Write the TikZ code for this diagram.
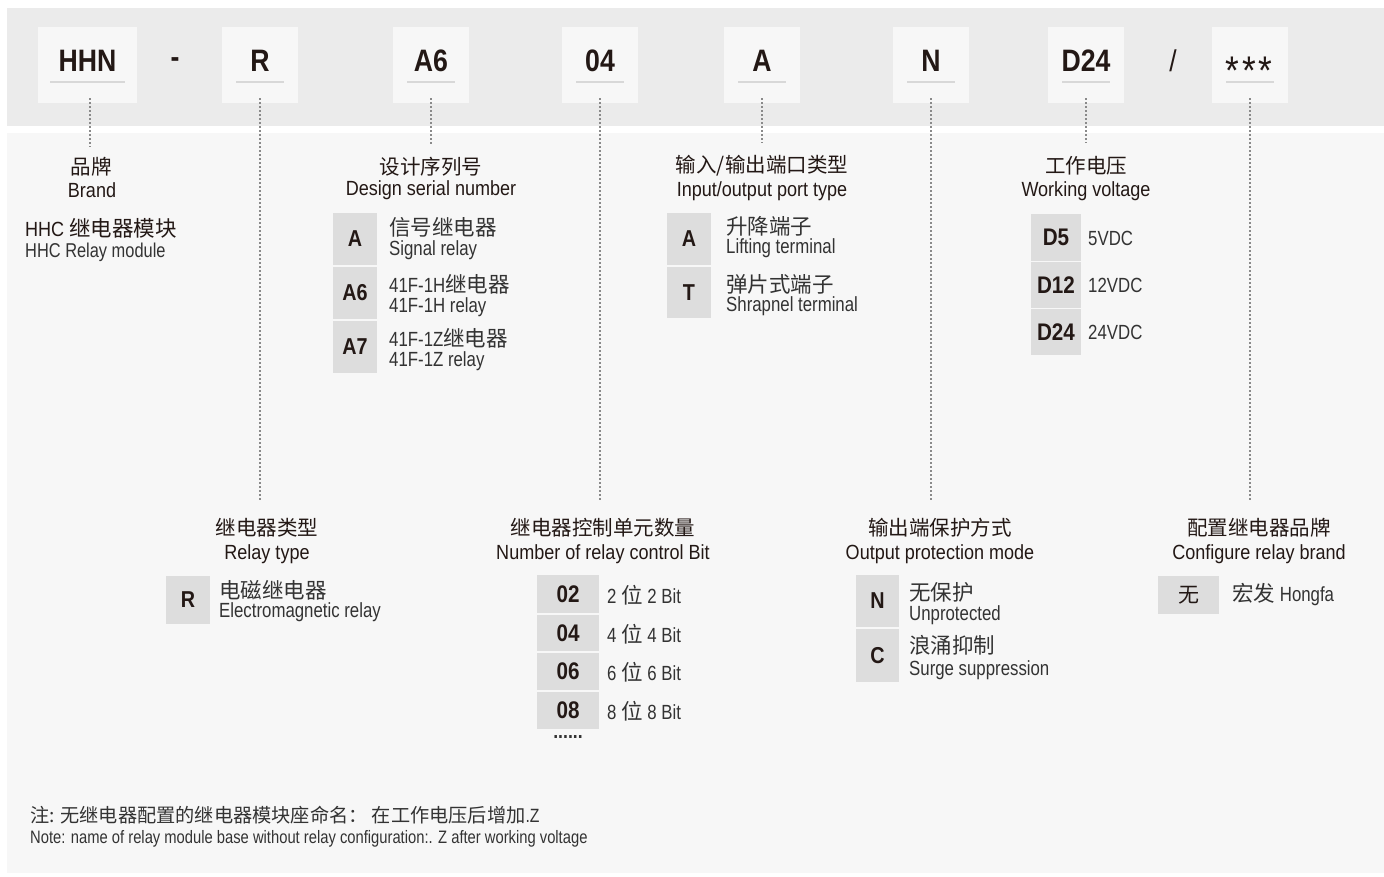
\documentclass[tikz,border=0pt]{standalone}
\usepackage{fontspec}
\setmainfont{Liberation Sans}[FakeStretch=0.88]
\newfontfamily\narrowfont{Liberation Sans}[FakeStretch=0.82]
\newfontfamily\codefont{Liberation Sans}[FakeStretch=0.86]
\newfontfamily\cjk{Noto Sans CJK SC}
\newcommand\zhs[1]{{\cjk\fontsize{21.5}{25}\selectfont #1}}
\definecolor{band}{HTML}{EBEBEB}
\definecolor{panel}{HTML}{F7F7F7}
\definecolor{cell}{HTML}{DDDDDD}
\definecolor{uline}{HTML}{D8D8D8}
\definecolor{ink}{HTML}{231815}
\definecolor{ink2}{HTML}{333333}
\definecolor{dotc}{HTML}{8A8A8A}
\tikzset{
  topbox/.style={fill=panel, minimum width=76, minimum height=76, inner sep=0},
  topcode/.style={font=\codefont\bfseries\fontsize{31}{36}\selectfont, text=ink, inner sep=0},
  ul/.style={draw=uline, line width=2pt},
  cbox/.style={fill=cell, inner sep=0, font=\codefont\bfseries\fontsize{23}{27}\selectfont, text=ink},
  hzh/.style={font=\cjk\fontsize{20.5}{24}\selectfont, text=ink, inner sep=0},
  hen/.style={font=\fontsize{20.5}{24}\selectfont, text=ink, inner sep=0, anchor=base},
  dl/.style={font=\narrowfont\fontsize{20.5}{24}\selectfont, text=ink2, inner sep=0, anchor=base west},
  dotline/.style={draw=dotc, line width=1.3pt, dash pattern=on 1.3pt off 2.7pt},
}
\begin{document}
\begin{tikzpicture}[x=1pt,y=-1pt]
\useasboundingbox (0,0) rectangle (1384,876);
\fill[white] (0,0) rectangle (1384,876);
\fill[band] (7,8) rectangle (1384,126);
\fill[panel] (7,133) rectangle (1384,873);

% ---- top code boxes
\node[topbox, minimum width=99] (hhn) at (87.5,65) {};
\node[topbox] (r) at (260,65) {};
\node[topbox] (a6) at (431,65) {};
\node[topbox] (n04) at (600,65) {};
\node[topbox] (a) at (762,65) {};
\node[topbox] (n) at (931,65) {};
\node[topbox] (d24) at (1086,65) {};
\node[topbox] (star) at (1250,65) {};

\node[topcode] (thhn) at (87.5,60.5) {HHN};
\node[topcode] (tdash) at (175,63) {-};
\node[topcode] (tr) at (260,60.5) {R};
\node[topcode] (ta6) at (431,60.5) {A6};
\node[topcode] (t04) at (600,60.5) {04};
\node[topcode] (ta) at (762,60.5) {A};
\node[topcode] (tn) at (931,60.5) {N};
\node[topcode] (td24) at (1086,60.5) {D24};
\node[font=\fontsize{30}{34}\selectfont, text=ink, inner sep=0] (tslash) at (1173,61) {/};
\node[font=\fontsize{40}{44}\selectfont, text=ink, inner sep=0, anchor=base] (tstar) at (1249,84) {*\hspace{3pt}*\hspace{3pt}*};

\draw[ul] (50,82) -- (125,82);
\draw[ul] (236,82) -- (284,82);
\draw[ul] (407,82) -- (455,82);
\draw[ul] (576,82) -- (624,82);
\draw[ul] (738,82) -- (786,82);
\draw[ul] (907,82) -- (955,82);
\draw[ul] (1062,82) -- (1110,82);
\draw[ul] (1226,82) -- (1274,82);

% ---- line end points
\coordinate (ehhn) at (90,147);
\coordinate (er) at (260,500);
\coordinate (ea6) at (431,145);
\coordinate (e04) at (600,500);
\coordinate (ea) at (762,143);
\coordinate (en) at (931,500);
\coordinate (ed24) at (1086,143);
\coordinate (estar) at (1250,500);

\draw[dotline] ([xshift=2.5pt,yshift=5pt]hhn.south) -- (ehhn);
\draw[dotline] ([yshift=5pt]r.south) -- (er);
\draw[dotline] ([yshift=5pt]a6.south) -- (ea6);
\draw[dotline] ([yshift=5pt]n04.south) -- (e04);
\draw[dotline] ([yshift=5pt]a.south) -- (ea);
\draw[dotline] ([yshift=5pt]n.south) -- (en);
\draw[dotline] ([yshift=5pt]d24.south) -- (ed24);
\draw[dotline] ([yshift=5pt]star.south) -- (estar);

% ---- Brand
\node[hzh] (brandzh) at (91,167) {品牌};
\node[hen] (branden) at (92,197) {Brand};
\node[font=\fontsize{20.5}{24}\selectfont, text=ink, inner sep=0, anchor=base west] (hhc1) at (25,236) {HHC \zhs{继电器模块}};
\node[dl, font=\narrowfont\fontsize{20}{24}\selectfont] (hhc2) at (25,257) {HHC Relay module};

% ---- Design serial number
\node[hzh] (deszh) at (431,167) {设计序列号};
\node[hen] (desen) at (431,195) {Design serial number};
\node[cbox, minimum width=44, minimum height=52] (dA) at (355,239) {A};
\node[cbox, minimum width=44, minimum height=52] (dA6) at (355,293) {A6};
\node[cbox, minimum width=44, minimum height=52] (dA7) at (355,347) {A7};
\node[dl] (dA1) at (389,235) {\zhs{信号继电器}};
\node[dl] (dA2) at (389,255) {Signal relay};
\node[dl] (dA61) at (389,292) {41F-1H\zhs{继电器}};
\node[dl] (dA62) at (389,312) {41F-1H relay};
\node[dl] (dA71) at (389,346) {41F-1Z\zhs{继电器}};
\node[dl] (dA72) at (389,366) {41F-1Z relay};

% ---- Input/output port type
\node[hzh] (iozh) at (762,166) {输入/输出端口类型};
\node[hen] (ioen) at (762,196) {Input/output port type};
\node[cbox, minimum width=44, minimum height=52] (iA) at (689,239) {A};
\node[cbox, minimum width=44, minimum height=51] (iT) at (689,292.5) {T};
\node[dl] (iA1) at (726,234) {\zhs{升降端子}};
\node[dl] (iA2) at (726,253) {Lifting terminal};
\node[dl] (iT1) at (726,292) {\zhs{弹片式端子}};
\node[dl] (iT2) at (726,311) {Shrapnel terminal};

% ---- Working voltage
\node[hzh] (wvzh) at (1086,166) {工作电压};
\node[hen] (wven) at (1086,196) {Working voltage};
\node[cbox, minimum width=50, minimum height=47, font=\codefont\bfseries\fontsize{24}{28}\selectfont] (v5) at (1056,237.5) {D5};
\node[cbox, minimum width=50, minimum height=46, font=\codefont\bfseries\fontsize{24}{28}\selectfont] (v12) at (1056,285) {D12};
\node[cbox, minimum width=50, minimum height=46, font=\codefont\bfseries\fontsize{24}{28}\selectfont] (v24) at (1056,332) {D24};
\node[dl] (v5t) at (1088,245) {5VDC};
\node[dl] (v12t) at (1088,292) {12VDC};
\node[dl] (v24t) at (1088,339) {24VDC};

% ---- Relay type
\node[hzh] (rtzh) at (267,528) {继电器类型};
\node[hen] (rten) at (267,559) {Relay type};
\node[cbox, minimum width=44, minimum height=48] (rR) at (188,600) {R};
\node[dl] (rR1) at (219,598) {\zhs{电磁继电器}};
\node[dl] (rR2) at (219,617) {Electromagnetic relay};

% ---- Number of relay control Bit
\node[hzh] (nbzh) at (603,528) {继电器控制单元数量};
\node[hen] (nben) at (603,559) {Number of relay control Bit};
\node[cbox, minimum width=62, minimum height=38, font=\codefont\bfseries\fontsize{24}{28}\selectfont] (b02) at (568,594) {02};
\node[cbox, minimum width=62, minimum height=36, font=\codefont\bfseries\fontsize{24}{28}\selectfont] (b04) at (568,633) {04};
\node[cbox, minimum width=62, minimum height=37, font=\codefont\bfseries\fontsize{24}{28}\selectfont] (b06) at (568,671.5) {06};
\node[cbox, minimum width=62, minimum height=37, font=\codefont\bfseries\fontsize{24}{28}\selectfont] (b08) at (568,710.5) {08};
\node[dl] (b02t) at (607,603) {2 \zhs{位} 2 Bit};
\node[dl] (b04t) at (607,642) {4 \zhs{位} 4 Bit};
\node[dl] (b06t) at (607,680) {6 \zhs{位} 6 Bit};
\node[dl] (b08t) at (607,719) {8 \zhs{位} 8 Bit};
\node[font=\bfseries\fontsize{20}{22}\selectfont, text=ink2, inner sep=0] (bdots) at (568,737) {......};

% ---- Output protection mode
\node[hzh] (opzh) at (940,528) {输出端保护方式};
\node[hen] (open) at (940,559) {Output protection mode};
\node[cbox, minimum width=43, minimum height=52] (oN) at (877.5,601) {N};
\node[cbox, minimum width=43, minimum height=53] (oC) at (877.5,655.5) {C};
\node[dl] (oN1) at (909,600) {\zhs{无保护}};
\node[dl] (oN2) at (909,620) {Unprotected};
\node[dl] (oC1) at (909,653) {\zhs{浪涌抑制}};
\node[dl] (oC2) at (909,675) {Surge suppression};

% ---- Configure relay brand
\node[hzh] (cfzh) at (1259,528) {配置继电器品牌};
\node[hen] (cfen) at (1259,559) {Configure relay brand};
\node[cbox, minimum width=61, minimum height=38, font=\cjk\fontsize{21}{25}\selectfont] (cW) at (1188.5,595) {无};
\node[dl] (cW1) at (1232,601) {\zhs{宏发} Hongfa};

% ---- note
\node[font=\cjk\fontsize{19.2}{23}\selectfont, text=ink2, inner sep=0, anchor=west] (note1) at (30,815) {注: 无继电器配置的继电器模块座命名： 在工作电压后增加{\narrowfont .Z}};
\node[font=\narrowfont\fontsize{18}{21}\selectfont, text=ink2, inner sep=0, anchor=base west] (note2) at (30,843) {Note: name of relay module base without relay configuration:. Z after working voltage};
\end{tikzpicture}
\end{document}
